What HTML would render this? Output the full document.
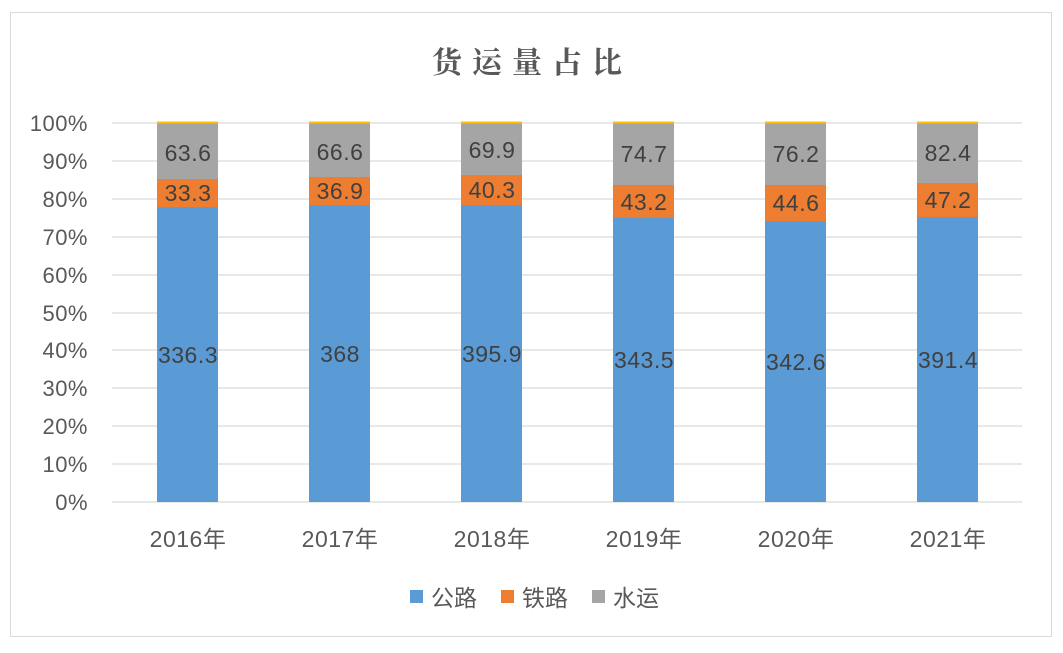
<!DOCTYPE html>
<html><head><meta charset="utf-8"><style>
body{margin:0;background:#fff}
svg text{font-family:"Liberation Sans","Noto Sans CJK SC",sans-serif}
</style></head><body>
<svg width="1063" height="648" xmlns="http://www.w3.org/2000/svg">
<rect x="0" y="0" width="1063" height="648" fill="#fff"/>
<rect x="10.5" y="12.5" width="1041" height="624" fill="#fff" stroke="#d9d9d9"/>
<text x="532" y="73" text-anchor="middle" font-size="30" font-weight="bold" fill="#595959" letter-spacing="10" style="font-family:'Noto Serif CJK SC',serif">货运量占比</text>
<g stroke="#d9d9d9" stroke-width="1.3">
<line x1="112" x2="1022" y1="123" y2="123"/>
<line x1="112" x2="1022" y1="161" y2="161"/>
<line x1="112" x2="1022" y1="199" y2="199"/>
<line x1="112" x2="1022" y1="237" y2="237"/>
<line x1="112" x2="1022" y1="275" y2="275"/>
<line x1="112" x2="1022" y1="313" y2="313"/>
<line x1="112" x2="1022" y1="350" y2="350"/>
<line x1="112" x2="1022" y1="388" y2="388"/>
<line x1="112" x2="1022" y1="426" y2="426"/>
<line x1="112" x2="1022" y1="464" y2="464"/>
<line x1="112" x2="1022" y1="502" y2="502"/>
</g>
<g font-size="22" fill="#595959" text-anchor="end" letter-spacing="0.5">
<text x="88" y="131">100%</text><text x="88" y="169">90%</text><text x="88" y="207">80%</text>
<text x="88" y="245">70%</text><text x="88" y="283">60%</text><text x="88" y="321">50%</text>
<text x="88" y="358">40%</text><text x="88" y="396">30%</text><text x="88" y="434">20%</text>
<text x="88" y="472">10%</text><text x="88" y="510">0%</text>
</g>
<g>
<rect x="157" y="207" width="61" height="295" fill="#5b9bd5"/>
<rect x="157" y="179" width="61" height="28" fill="#ed7d31"/>
<rect x="157" y="123" width="61" height="56" fill="#a5a5a5"/>
<rect x="157" y="121.5" width="61" height="2" fill="#ffc000"/>
<rect x="309" y="205" width="61" height="297" fill="#5b9bd5"/>
<rect x="309" y="177" width="61" height="28" fill="#ed7d31"/>
<rect x="309" y="123" width="61" height="54" fill="#a5a5a5"/>
<rect x="309" y="121.5" width="61" height="2" fill="#ffc000"/>
<rect x="461" y="205" width="61" height="297" fill="#5b9bd5"/>
<rect x="461" y="175" width="61" height="30" fill="#ed7d31"/>
<rect x="461" y="123" width="61" height="52" fill="#a5a5a5"/>
<rect x="461" y="121.5" width="61" height="2" fill="#ffc000"/>
<rect x="613" y="218" width="61" height="284" fill="#5b9bd5"/>
<rect x="613" y="185" width="61" height="33" fill="#ed7d31"/>
<rect x="613" y="123" width="61" height="62" fill="#a5a5a5"/>
<rect x="613" y="121.5" width="61" height="2" fill="#ffc000"/>
<rect x="765" y="221" width="61" height="281" fill="#5b9bd5"/>
<rect x="765" y="185" width="61" height="36" fill="#ed7d31"/>
<rect x="765" y="123" width="61" height="62" fill="#a5a5a5"/>
<rect x="765" y="121.5" width="61" height="2" fill="#ffc000"/>
<rect x="917" y="217" width="61" height="285" fill="#5b9bd5"/>
<rect x="917" y="183" width="61" height="34" fill="#ed7d31"/>
<rect x="917" y="123" width="61" height="60" fill="#a5a5a5"/>
<rect x="917" y="121.5" width="61" height="2" fill="#ffc000"/>
</g>
<g font-size="23" fill="#404040" text-anchor="middle" letter-spacing="0.5">
<text x="188" y="363">336.3</text><text x="188" y="201">33.3</text><text x="188" y="161">63.6</text>
<text x="340" y="362">368</text><text x="340" y="199">36.9</text><text x="340" y="160">66.6</text>
<text x="492" y="362">395.9</text><text x="492" y="198">40.3</text><text x="492" y="158">69.9</text>
<text x="644" y="368">343.5</text><text x="644" y="210">43.2</text><text x="644" y="162">74.7</text>
<text x="796" y="370">342.6</text><text x="796" y="211">44.6</text><text x="796" y="162">76.2</text>
<text x="948" y="368">391.4</text><text x="948" y="208">47.2</text><text x="948" y="161">82.4</text>
</g>
<g font-size="23" fill="#595959" text-anchor="middle" letter-spacing="0.5">
<text x="188" y="547">2016年</text><text x="340" y="547">2017年</text><text x="492" y="547">2018年</text>
<text x="644" y="547">2019年</text><text x="796" y="547">2020年</text><text x="948" y="547">2021年</text>
</g>
<g font-size="23" fill="#595959">
<rect x="410" y="590" width="13" height="13" fill="#5b9bd5"/><text x="431" y="606">公路</text>
<rect x="501" y="590" width="13" height="13" fill="#ed7d31"/><text x="522" y="606">铁路</text>
<rect x="592" y="590" width="13" height="13" fill="#a5a5a5"/><text x="613" y="606">水运</text>
</g>
</svg>
</body></html>
